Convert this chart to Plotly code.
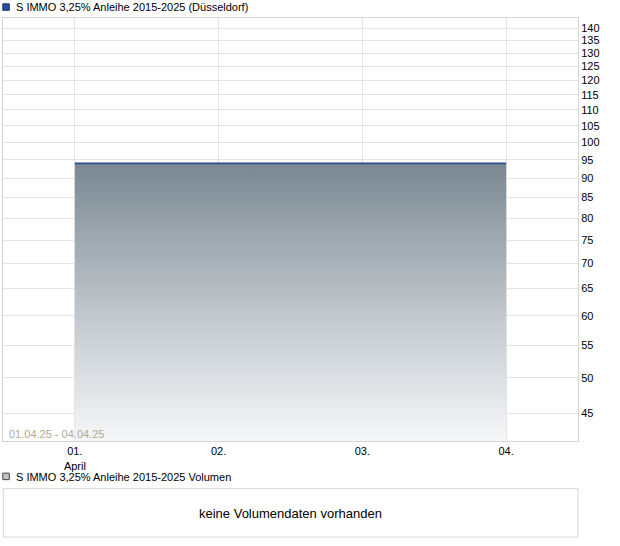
import math
import plotly.graph_objects as go

# ---- data ----
dates = ["2025-04-01", "2025-04-02", "2025-04-03", "2025-04-04"]
prices = [94.0, 94.0, 94.0, 94.0]
x_tick_vals = ["2025-04-01", "2025-04-02", "2025-04-03", "2025-04-04"]
x_tick_text = ["01.<br>April", "02.", "03.", "04."]
y_tick_vals = [45, 50, 55, 60, 65, 70, 75, 80, 85, 90, 95, 100, 105, 110, 115, 120, 125, 130, 135, 140]
title_text = "S IMMO 3,25% Anleihe 2015-2025 (Düsseldorf)"
volume_title = "S IMMO 3,25% Anleihe 2015-2025 Volumen"
volume_msg = "keine Volumendaten vorhanden"
range_text = "01.04.25 - 04.04.25"
y_min, y_max = 41.5, 144.2

W, H = 620, 546
L, R, T, B = 2.7, 578.3, 17.7, 441.3
PW, PH = R - L, B - T


def px(x):
    return (x - L) / PW


def py(y):
    return (B - y) / PH


FONT = "Liberation Sans, Arial, sans-serif"

fig = go.Figure()
fig.add_trace(go.Scatter(x=dates, y=[y_min] * len(dates), mode="lines",
                         line=dict(width=0), hoverinfo="skip", showlegend=False))
fig.add_trace(go.Scatter(
    x=dates, y=prices, mode="lines",
    line=dict(color="#2b4d8e", width=1.6),
    fill="tonexty",
    fillgradient=dict(type="vertical",
                      colorscale=[[0, "#f6f7f9"], [0.5, "#bcc3c8"], [1, "#7a8892"]]),
    showlegend=False,
))

fig.update_layout(
    width=W, height=H,
    margin=dict(l=L, r=W - R, t=T, b=H - B, pad=0),
    paper_bgcolor="white", plot_bgcolor="white",
    font=dict(family=FONT, size=11, color="#000"),
    showlegend=False,
    xaxis=dict(
        type="date",
        range=["2025-03-31 12:00", "2025-04-04 12:00"],
        tickvals=x_tick_vals, ticktext=x_tick_text,
        showgrid=True, gridcolor="#e3e3e3", gridwidth=1,
        showline=True, linecolor="#d6d6d6", mirror=True,
        ticks="", zeroline=False,
        tickfont=dict(size=11, color="#000"),
    ),
    yaxis=dict(
        type="log", side="right",
        range=[math.log10(y_min), math.log10(y_max)],
        tickvals=y_tick_vals, ticktext=[str(v) for v in y_tick_vals],
        showgrid=True, gridcolor="#e3e3e3", gridwidth=1,
        showline=True, linecolor="#d6d6d6", mirror=True,
        ticks="", zeroline=False,
        tickfont=dict(size=11, color="#000"),
    ),
)

shapes = [
    dict(type="rect", xref="paper", yref="paper",
         x0=px(2.5), x1=px(9), y0=py(10), y1=py(3.5),
         fillcolor="#1f4fa5", line=dict(color="#223355", width=1)),
    dict(type="rect", xref="paper", yref="paper",
         x0=px(2.5), x1=px(9), y0=py(480), y1=py(473.5),
         fillcolor="#c4c4c4", line=dict(color="#444444", width=1)),
    dict(type="rect", xref="paper", yref="paper",
         x0=px(3), x1=px(578.3), y0=py(537.5), y1=py(489),
         fillcolor="rgba(0,0,0,0)", line=dict(color="#d6d6d6", width=1)),
]

annotations = [
    dict(text=title_text, xref="paper", yref="paper", x=px(14), y=py(6.8),
         xanchor="left", yanchor="middle", showarrow=False,
         font=dict(family=FONT, size=11, color="#000")),
    dict(text=volume_title, xref="paper", yref="paper", x=px(14), y=py(477),
         xanchor="left", yanchor="middle", showarrow=False,
         font=dict(family=FONT, size=11, color="#000")),
    dict(text=volume_msg, xref="paper", yref="paper", x=px(291), y=py(514),
         xanchor="center", yanchor="middle", showarrow=False,
         font=dict(family=FONT, size=13, color="#000")),
    dict(text=range_text, xref="paper", yref="paper", x=px(7), y=py(434),
         xanchor="left", yanchor="middle", showarrow=False,
         font=dict(family=FONT, size=11, color="#b3a892")),
]

fig.update_layout(shapes=shapes, annotations=annotations)
fig.write_html("out.html", config={"displayModeBar": False},
               post_script="document.body.style.margin='0';document.body.style.padding='0';")
